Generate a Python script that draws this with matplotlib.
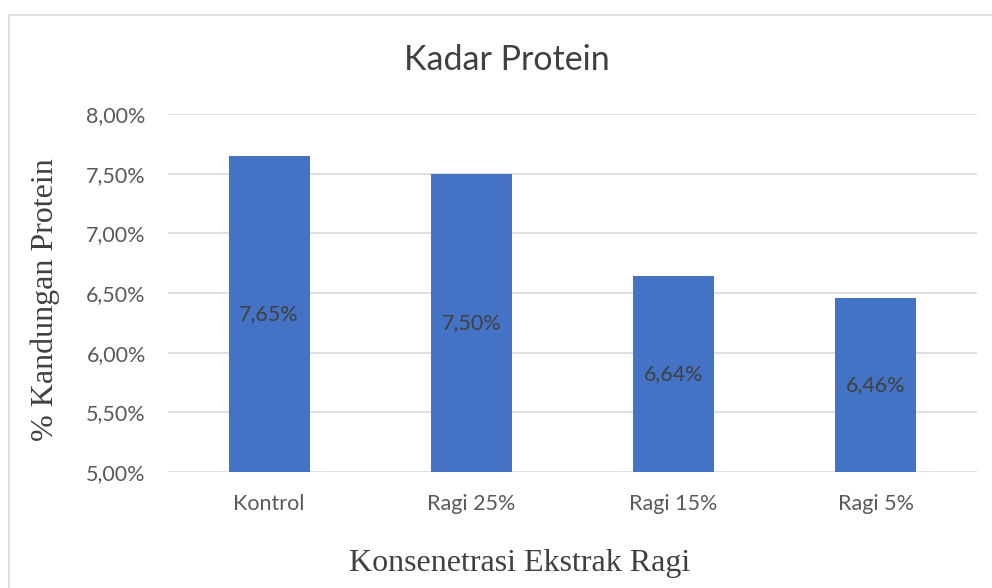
import matplotlib.pyplot as plt
from matplotlib.patches import Rectangle
from matplotlib.ticker import FuncFormatter

# data
categories = ['Kontrol', 'Ragi 25%', 'Ragi 15%', 'Ragi 5%']
protein = [0.0765, 0.0750, 0.0664, 0.0646]
y_ticks = [0.05, 0.055, 0.06, 0.065, 0.07, 0.075, 0.08]

bar_color = '#4472C4'
grid_color = '#D9D9D9'
sans = 'Lato'
serif = 'Liberation Serif'


def pct(v, pos=None):
    return f'{v * 100:.2f}%'.replace('.', ',')


fig = plt.figure(figsize=(9.92, 5.88), dpi=100)
ax = fig.add_axes([168 / 992, 1 - 472 / 588, (977 - 168) / 992, (472 - 114) / 588])

# chart-area border
fig.patches.append(Rectangle((8.5 / 992, -0.05), 1.0, 1 - 15 / 588 + 0.05,
                             transform=fig.transFigure, fill=False,
                             edgecolor=grid_color, linewidth=1.2))

x = range(len(categories))
bars = ax.bar(x, [v - 0.05 for v in protein], bottom=0.05, width=0.4,
              color=bar_color, zorder=3)
for b, v in zip(bars, protein):
    ax.text(b.get_x() + b.get_width() / 2, 0.05 + (v - 0.05) / 2, pct(v),
            ha='center', va='center', fontsize=15.5, color='#404040',
            family=sans, zorder=4)

ax.set_xlim(-0.5, len(categories) - 0.5)
ax.set_ylim(0.05, 0.08)
ax.set_yticks(y_ticks)
ax.yaxis.set_major_formatter(FuncFormatter(pct))
ax.set_xticks(list(x))
ax.set_xticklabels(categories)
ax.grid(axis='y', color=grid_color, linewidth=1.2, zorder=0)
ax.tick_params(length=0, labelsize=15.5, labelcolor='#595959')
ax.tick_params(axis='y', pad=16)
ax.tick_params(axis='x', pad=16)
for lbl in ax.get_xticklabels() + ax.get_yticklabels():
    lbl.set_family(sans)
for s in ax.spines.values():
    s.set_visible(False)

fig.text(507 / 992, 1 - 60 / 588, 'Kadar Protein', ha='center', va='center',
         fontsize=24.5, color='#404040', family=sans)
fig.text(520 / 992, 1 - 563 / 588, 'Konsenetrasi Ekstrak Ragi', ha='center',
         va='center', fontsize=23, color='#404040', family=serif)
fig.text(45 / 992, 1 - 300 / 588, '% Kandungan Protein', ha='center',
         va='center', rotation=90, fontsize=23, color='#404040', family=serif)

fig.savefig('out.png', dpi=100)
